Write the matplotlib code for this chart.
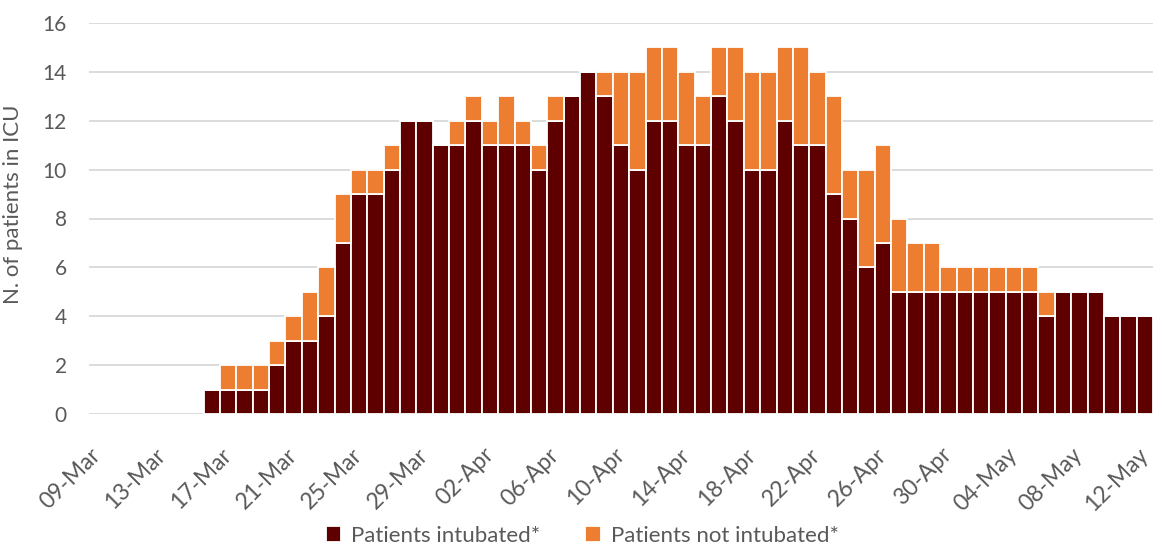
import pandas as pd
import matplotlib
matplotlib.use("Agg")
import matplotlib.pyplot as plt

# Daily ICU occupancy, 16-Mar to 12-May
axis_start = pd.Timestamp("2020-03-09")
axis_end = pd.Timestamp("2020-05-12")
days = pd.date_range("2020-03-16", "2020-05-12")

intubated = [1, 1, 1, 1, 2, 3, 3, 4, 7, 9, 9, 10, 12, 12, 11, 11, 12, 11, 11, 11,
             10, 12, 13, 14, 13, 11, 10, 12, 12, 11, 11, 13, 12, 10, 10, 12, 11, 11,
             9, 8, 6, 7, 5, 5, 5, 5, 5, 5, 5, 5, 5, 4, 5, 5, 5, 4, 4, 4]
not_intubated = [0, 1, 1, 1, 1, 1, 2, 2, 2, 1, 1, 1, 0, 0, 0, 1, 1, 1, 2, 1,
                 1, 1, 0, 0, 1, 3, 4, 3, 3, 3, 2, 2, 3, 4, 4, 3, 4, 3,
                 4, 2, 4, 4, 3, 2, 2, 1, 1, 1, 1, 1, 1, 1, 0, 0, 0, 0, 0, 0]

tick_labels = ["09-Mar", "13-Mar", "17-Mar", "21-Mar", "25-Mar", "29-Mar",
               "02-Apr", "06-Apr", "10-Apr", "14-Apr", "18-Apr", "22-Apr",
               "26-Apr", "30-Apr", "04-May", "08-May", "12-May"]

dark = "#5E0000"
orange = "#ED7D31"
text_col = "#595959"

plt.rcParams["font.family"] = ["Lato", "DejaVu Sans"]

x = (days - axis_start).days
n_days = (axis_end - axis_start).days + 1

fig = plt.figure(figsize=(11.53, 5.48), dpi=100)
ax = fig.add_axes([89 / 1153, 1 - 414 / 548, 1 - 89 / 1153, (414 - 23) / 548])

ax.bar(x, intubated, width=1.0, color=dark, edgecolor="white", linewidth=1.3,
       label="Patients intubated*", zorder=3)
ax.bar(x, not_intubated, width=1.0, bottom=intubated, color=orange,
       edgecolor="white", linewidth=1.3, label="Patients not intubated*", zorder=3)

ax.set_xlim(-0.5, n_days - 0.5)
ax.set_ylim(0, 16)
ax.set_yticks(range(0, 17, 2))
ax.yaxis.grid(True, color="#D9D9D9", linewidth=1.3, zorder=0)
for s in ax.spines.values():
    s.set_visible(False)
ax.tick_params(axis="both", length=0, labelcolor=text_col)
ax.tick_params(axis="y", pad=16, labelsize=15)

ax.set_xticks(range(0, n_days, 4))
ax.set_xticklabels(tick_labels, rotation=45, ha="right", va="center",
                   rotation_mode="anchor")
ax.tick_params(axis="x", pad=27, labelsize=16.5)

ax.set_ylabel("N. of patients in ICU", fontsize=16, color=text_col)
ax.yaxis.set_label_coords(-0.062, 0.537)

handles, labels = ax.get_legend_handles_labels()
fig.legend(handles, labels, loc="lower center", bbox_to_anchor=(0.505, -0.032),
           ncol=2, frameon=False, fontsize=16, labelcolor=text_col,
           handlelength=0.7, handleheight=0.7, columnspacing=2.0, handletextpad=0.45)

fig.savefig("out.png", dpi=100)
